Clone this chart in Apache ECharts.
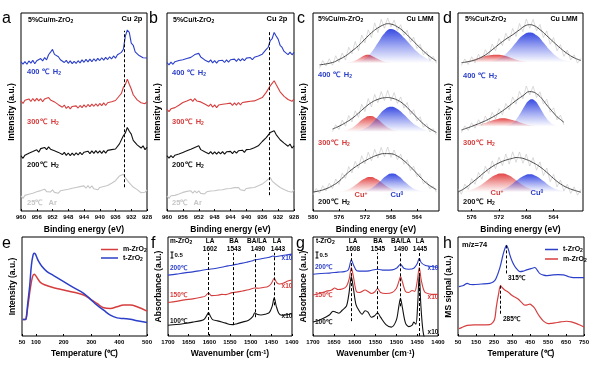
<!DOCTYPE html>
<html><head><meta charset="utf-8">
<script src="https://cdn.jsdelivr.net/npm/echarts@6/dist/echarts.min.js"></script>
<style>html,body{margin:0;padding:0;background:#fff}#c{width:597px;height:366px}</style>
</head><body><div id="c"></div>
<script>
// ---------------- DATA ----------------
// Panels a/b: Cu 2p XPS, binding energy grid (eV)
const XPS_X = [960,959.5,959,958.5,958,957.5,957,956.5,956,955.5,955,954.5,954,953.5,953,952.5,952,951.5,951,950.5,950,949.5,949,948.5,948,947.5,947,946.5,946,945.5,945,944.5,944,943.5,943,942.5,942,941.5,941,940.5,940,939.5,939,938.5,938,937.5,937,936.5,936,935.5,935,934.5,934,933.5,933,932.5,932,931.5,931,930.5,930,929.5,929,928.5,928];
const A_400 = [75.3,74.2,75.4,74.1,75.8,74.7,76.1,74.4,75.9,75.5,77.0,75.8,77.5,76.3,78.9,80.2,81.6,79.1,79.3,77.9,76.4,77.2,75.0,76.1,74.6,75.8,74.4,75.6,74.5,75.9,74.8,76.3,75.1,76.6,75.3,76.7,75.4,76.9,75.7,77.1,76.0,77.4,76.2,77.6,76.5,77.9,76.8,78.3,77.2,78.9,78.0,80.1,81.7,88.3,91.4,90.2,84.8,83.7,80.4,80.6,78.5,79.2,77.4,78.4,77.3];
const A_300 = [55.6,54.3,55.9,55.0,56.6,55.3,56.8,55.5,56.9,55.6,56.7,55.2,56.6,55.9,57.3,56.1,57.0,55.1,55.6,53.7,54.2,52.4,53.5,51.8,52.9,51.6,52.8,51.9,53.1,52.0,53.3,52.2,53.6,52.4,53.8,52.7,54.0,52.9,54.1,53.0,54.3,53.2,54.6,53.3,54.7,53.8,55.2,54.3,55.8,55.9,58.2,59.4,62.5,63.9,66.6,64.0,61.6,58.7,58.2,56.1,56.6,54.7,55.6,54.2,55.2];
const A_200 = [27.9,26.6,28.2,27.5,29.2,28.3,30.0,29.1,30.9,29.7,31.5,30.6,32.1,31.0,32.4,31.2,31.8,30.4,31.2,29.6,30.3,28.5,29.6,28.1,29.3,28.0,29.2,28.1,29.4,28.3,29.6,28.4,29.7,28.8,30.2,29.0,30.4,29.1,30.5,29.2,30.4,29.1,30.5,29.2,30.6,29.6,31.0,30.0,31.3,31.4,33.9,34.9,38.0,39.4,42.2,40.3,38.8,35.7,35.4,33.4,33.8,31.8,32.9,31.0,32.1];
const A_25 = [7.6,6.4,7.9,7.1,8.5,7.6,9.0,8.3,9.7,8.8,10.3,9.5,11.0,9.8,10.8,9.6,10.7,9.4,10.3,9.0,10.2,9.3,10.6,9.8,11.0,10.1,11.5,10.6,11.9,11.0,12.3,11.4,12.7,11.5,12.8,11.6,12.7,11.2,12.1,10.7,11.9,11.0,12.4,11.6,12.9,12.5,14.0,13.8,15.3,15.6,17.7,17.4,18.6,16.7,16.1,14.2,13.7,12.1,12.8,10.8,11.0,9.2,10.2,9.5,10.7];
const B_400 = [75.0,73.8,75.2,74.1,75.4,74.6,76.0,75.0,76.4,75.5,77.0,76.0,77.6,77.3,79.0,79.4,79.6,77.8,78.0,76.3,76.8,75.2,76.3,74.8,75.9,74.7,75.9,74.9,76.1,75.0,76.3,75.2,76.4,75.4,76.7,75.6,76.9,75.8,77.0,75.9,77.2,76.2,77.5,76.4,77.6,76.9,78.3,77.8,79.2,79.4,81.6,82.7,86.0,87.1,90.2,88.4,86.8,83.7,82.6,80.6,80.9,79.0,80.2,78.9,80.1];
const B_300 = [51.4,50.2,51.6,50.6,52.2,51.5,53.4,52.6,54.8,53.9,55.6,54.7,56.5,55.4,56.8,55.6,56.6,55.1,55.6,54.0,54.8,52.9,54.0,52.4,53.6,52.2,53.5,52.6,53.9,52.9,54.2,53.2,54.5,53.3,54.6,53.5,54.8,53.6,54.8,53.8,55.1,54.1,55.4,54.4,55.6,55.0,56.4,55.8,57.3,57.4,59.9,60.5,63.2,63.6,65.8,63.9,62.9,60.2,59.9,57.9,58.2,56.3,57.3,55.4,56.5];
const B_200 = [27.9,26.7,28.0,26.9,28.2,27.3,28.8,27.8,29.6,28.6,30.4,29.5,31.2,30.3,32.1,31.2,32.9,31.0,31.8,29.9,30.9,28.9,30.0,28.7,29.9,28.7,29.9,28.8,30.0,28.7,29.9,28.9,30.1,29.0,30.3,29.2,30.4,29.4,30.7,29.6,31.0,30.0,31.2,30.6,32.0,31.6,32.9,33.0,35.1,35.3,37.1,37.2,39.6,39.1,40.5,38.6,38.0,36.0,36.3,34.3,34.6,32.7,33.8,31.8,32.9];
const B_25 = [7.6,6.4,7.7,6.7,7.9,7.1,8.6,7.8,9.4,8.4,9.9,8.9,10.2,9.0,10.2,9.1,10.2,8.9,9.9,8.6,9.7,8.8,10.1,9.1,10.2,9.3,10.6,9.6,10.7,9.9,11.2,10.2,11.4,10.6,11.8,10.8,11.9,10.7,11.5,10.3,11.4,10.4,11.7,10.8,11.9,11.3,12.8,12.3,13.6,13.4,15.2,15.0,16.9,15.1,15.2,13.4,13.6,11.9,12.7,10.9,11.9,10.0,11.0,9.5,10.7];
const CU2P_LINE_A = [933.8, 12, 91];
const CU2P_LINE_B = [934.2, 8, 90.4];

// Panel c: Cu LMM, 5%Cu/m-ZrO2
const C_X = [580,579.5,579,578.5,578,577.5,577,576.5,576,575.5,575,574.5,574,573.5,573,572.5,572,571.5,571,570.5,570,569.5,569,568.5,568,567.5,567,566.5,566,565.5,565,564.5,564,563.5,563,562.5,562,561.5,561];
const C_400 = [null,null,72.1,76.0,73.2,76.9,73.6,78.4,75.1,79.8,76.2,82.7,79.4,85.6,81.0,88.9,84.9,91.5,87.6,95.0,90.1,96.8,92.3,97.5,93.0,96.4,91.2,94.1,88.7,91.3,85.2,87.8,82.1,84.2,78.9,80.6,76.0,78.1,74.6];
const C_300 = [null,null,null,null,null,null,40.1,43.6,41.2,45.9,42.8,48.2,45.0,50.6,47.3,53.9,50.2,56.8,52.6,58.9,54.7,60.3,55.8,60.9,55.6,59.8,54.3,57.6,51.9,54.8,48.7,51.2,45.4,47.6,42.3,44.1,39.9,41.6,38.4];
const C_200 = [8.1,11.4,9.0,12.8,10.1,14.0,11.3,16.2,13.4,19.1,16.5,22.4,19.2,25.1,21.6,27.9,23.8,29.7,25.4,31.2,26.7,32.1,27.4,32.3,27.1,30.8,25.9,28.7,23.6,25.9,20.4,22.6,17.3,18.9,13.8,15.0,11.3,12.6,9.5];
const C_FIT_400 = [[579,73.8],[577,75],[576,76.5],[575,78.3],[574,80.8],[573,83.5],[572,86.8],[571,90],[570,92.5],[569,94.2],[568.5,94.6],[568,94.4],[567,93],[566,90.5],[565,87.3],[564,84],[563,80.8],[562,78],[561,75.8]];
const C_FIT_300 = [[577,41.4],[576,42.8],[575,44.6],[574,46.7],[573,49.4],[572,52.3],[571,54.8],[570,56.4],[569,57.2],[568.5,57.3],[568,57.1],[567,56],[566,53.8],[565,50.6],[564,47.2],[563,44],[562,41.5],[561,39.7]];
const C_FIT_200 = [[580,9.6],[579,10.2],[578,11.2],[577,12.8],[576,15],[575,18.2],[574,21],[573,23.3],[572,25.3],[571,27],[570,28.3],[569,29],[568,28.9],[567,27.7],[566,25.4],[565,22.3],[564,18.9],[563,15.5],[562,12.8],[561,10.8]];
const C_CUP_400 = [[575,74.8],[574,75.4],[573,76.8],[572,78.6],[571.5,78.9],[571,78.4],[570,76.8],[569,75.4],[568,74.8]];
const C_CU0_400 = [[574,74.9],[573,75.4],[572,77],[571,80.2],[570,85],[569,89.7],[568,91.9],[567,90.5],[566,87.5],[565,84],[564,80.5],[563,78],[562,76.3],[561,75.3]];
const C_CUP_300 = [[576.2,40.1],[575.2,40.5],[574.2,41.7],[573.2,44],[572.2,46.7],[571.2,48],[570.2,46.7],[569.2,44],[568.2,41.7],[567.2,40.5],[566.2,40.1]];
const C_CU0_300 = [[574,40.1],[573,40.6],[572,41.7],[571,44.1],[570,47.7],[569,51.2],[568,52.7],[567,51.5],[566,48.7],[565,45.5],[564,43],[563,41.3],[562,40.4],[561,40.1]];
const C_CUP_200 = [[576.2,9.8],[575.2,10.2],[574.2,11.5],[573.2,13.7],[572.2,16.1],[571.2,17.2],[570.2,16.1],[569.2,13.7],[568.2,11.5],[567.2,10.2],[566.2,9.8]];
const C_CU0_200 = [[572.8,9.8],[571.8,10.4],[570.8,11.9],[569.8,14.6],[568.8,17.6],[567.8,18.9],[566.8,17.6],[565.8,14.6],[564.8,11.9],[563.8,10.4],[562.8,9.8],[561.8,9.6]];
const C_BASE = [74.7, 40, 9.6];

// Panel d: Cu LMM, 5%Cu/t-ZrO2
const D_X = [578,577.5,577,576.5,576,575.5,575,574.5,574,573.5,573,572.5,572,571.5,571,570.5,570,569.5,569,568.5,568,567.5,567,566.5,566,565.5,565,564.5,564,563.5,563,562.5,562,561.5,561,560.5,560];
const D_400 = [null,73.5,76.8,74.0,77.9,74.8,79.2,76.3,81.5,78.4,84.3,80.9,87.1,83.6,89.8,85.9,92.2,88.1,94.7,90.6,97.0,92.3,96.8,91.0,94.2,87.6,90.9,84.2,87.6,80.9,84.0,78.1,81.2,76.3,78.9,74.7,77.1];
const D_300 = [null,39.6,43.0,40.7,44.6,41.8,46.1,43.2,47.9,44.6,49.8,46.5,51.7,48.6,54.3,51.2,57.6,53.9,60.4,56.6,63.1,58.7,63.0,57.3,60.2,54.0,56.4,49.9,52.1,46.0,48.4,43.5,null,null,null,null,null];
const D_200 = [11.2,8.5,13.6,10.9,16.4,13.5,19.5,16.1,22.6,18.9,25.3,21.3,27.2,22.9,28.8,23.7,29.9,24.6,29.8,24.1,28.7,22.7,27.0,20.6,24.8,17.9,21.7,14.8,18.5,12.2,15.6,10.1,13.5,8.9,12.2,8.0,10.9];
const D_FIT_400 = [[577.5,74.9],[576,75.8],[575,77],[574,78.8],[573,81.4],[572,84.2],[571,86.8],[570,89],[569,91.5],[568,93.8],[567.5,94.1],[567,93.8],[566,91.6],[565,88.5],[564,85.3],[563,82.2],[562,79.5],[561,77.4],[560,76]];
const D_FIT_300 = [[577.5,40.9],[576.5,42.1],[575.5,43.4],[574.5,44.8],[573.5,46.4],[572.5,48.3],[571.5,50.5],[570.5,53.1],[569.5,55.8],[568.5,58.2],[567.5,60.3],[567,60.1],[566.5,59.2],[566,57.8],[565.5,55.8],[565,53.5],[564.5,51.5],[564,49.5],[563.5,47.6],[563,46.2],[562.5,44.8]];
const D_FIT_200 = [[578,9.6],[577,11.5],[576,14.2],[575,17],[574,19.9],[573,22.4],[572,24.3],[571,25.7],[570,26.6],[569.5,27],[569,26.9],[568,26],[567,24.4],[566,22.3],[565,19.5],[564,16.4],[563,13.7],[562,11.8],[561,10.5],[560,9.5]];
const D_CUP_400 = [[577,75.4],[576,76.2],[575,77.3],[574,78.3],[573,78.8],[572.4,78.9],[571.5,78.6],[570.5,77.6],[569.5,76.4],[568.5,75.6],[567.5,75.2],[566,75]];
const D_CU0_400 = [[574.5,75.1],[573.5,75.4],[572.5,76.2],[571.5,77.9],[570.5,81],[569.5,85.1],[568.5,88.7],[567.5,90.2],[566.5,88.7],[565.5,85.1],[564.5,81],[563.5,77.9],[562.5,76.2],[561.5,75.4],[560.5,75.1],[559.7,75]];
const D_CUP_300 = [[576.5,42.8],[575.5,43.2],[574.5,44],[573.5,45.1],[572.5,46.2],[571.4,46.8],[570.5,46.4],[569.5,45.4],[568.5,44.2],[567.5,43.3],[566.5,42.8],[565.5,42.6]];
const D_CU0_300 = [[571.2,42.8],[570.2,44],[569.7,45.4],[569.2,47.6],[568.7,50.4],[568.2,53.3],[567.7,55.5],[567.2,56.4],[566.7,55.5],[566.2,53.3],[565.7,50.4],[565.2,47.6],[564.7,45.4],[564.2,44],[563.2,42.8],[562.6,42.6]];
const D_CUP_200 = [[577.6,9.8],[576.6,10.3],[575.6,11.4],[574.6,13.3],[573.6,15.8],[572.6,18],[571.6,18.9],[570.6,18],[569.6,15.8],[568.6,13.3],[567.6,11.4],[566.6,10.3],[565.6,9.8]];
const D_CU0_200 = [[573.5,9.7],[572.5,10],[571.5,10.8],[570.5,12.5],[569.5,15.1],[568.5,17.5],[567.5,18.6],[566.5,17.5],[565.5,15.1],[564.5,12.5],[563.5,10.8],[562.5,10],[561.5,9.7],[560,9.6]];
const D_BASE = [75, 42.6, 9.6];

// Panel e: intensity vs temperature
const E_M = [[52,16.6],[62,16.6],[66,19],[70,27.8],[75,38],[80,48.1],[88,60],[94,62.4],[98,61.5],[104,59],[116,54.2],[134,51.5],[164,48.8],[200,46.4],[236,44.1],[272,41.4],[296,37.3],[320,32.9],[344,28.5],[368,27.8],[392,29.5],[416,31.2],[440,31.2],[464,29.5],[500,25.1]];
const E_T = [[52,16.6],[62,16.6],[66,20],[70,31],[74,41],[78,51.5],[84,71.9],[90,82],[94,83.7],[98,82.8],[102,80.3],[110,75.3],[122,70.2],[140,65.1],[164,61],[200,54.9],[236,48.8],[272,43.1],[296,37.3],[320,31.2],[344,26.1],[368,21],[392,18.3],[416,17.6],[440,17],[464,15.3],[500,13.6]];

// Panel f: IR, m-ZrO2
const F_200 = [[1700,61.5],[1680,62.5],[1660,63.8],[1640,64.8],[1620,66.2],[1602,67.5],[1590,68],[1570,69.5],[1555,70.8],[1545,71.5],[1530,72.8],[1510,74.5],[1495,76],[1490,77],[1480,77.5],[1465,78.8],[1455,79.5],[1446,80.8],[1440,80],[1430,80.8],[1415,81.8],[1400,82.7]];
const F_150 = [[1700,33.9],[1680,35],[1660,36.5],[1640,37.5],[1620,39.2],[1610,40.3],[1602,43.5],[1595,40.8],[1580,41.2],[1570,42],[1560,41.8],[1545,43.8],[1535,44.3],[1520,45.5],[1505,46.7],[1490,48.5],[1480,48.3],[1470,49],[1458,50],[1450,53],[1443,58.3],[1437,54],[1430,52.5],[1420,53.5],[1410,55.5],[1400,56.6]];
const F_100 = [[1700,10.8],[1680,11.6],[1660,12.7],[1640,14],[1620,15.5],[1612,17],[1606,21],[1602,23.7],[1598,20.5],[1592,16.5],[1580,15.3],[1570,14.2],[1560,13],[1550,11.6],[1543,11.5],[1535,12.2],[1520,14],[1505,16],[1495,19.5],[1490,23.5],[1485,22],[1475,21.2],[1465,22],[1455,23.5],[1448,30],[1443,38.6],[1438,30],[1432,23],[1425,21],[1415,21.3],[1400,22.7]];
const F_BANDS = [1602, 1543, 1490, 1443];
const F_BAND_LOW = [1, 11, 19, 31];

// Panel g: IR, t-ZrO2
const G_200 = [[1700,62.4],[1680,63.2],[1660,63.5],[1640,64.5],[1625,65],[1615,67],[1608,77],[1603,72],[1595,66],[1580,65.5],[1565,65.8],[1545,67.5],[1530,66.5],[1510,66.8],[1498,69],[1490,72.5],[1482,68.5],[1470,67.5],[1458,68.5],[1450,73],[1445,78.6],[1440,74],[1430,71.2],[1420,70.5],[1410,70],[1400,69.2]];
const G_150 = [[1700,41.4],[1685,43],[1670,45],[1655,46.5],[1648,48.5],[1640,47],[1630,47.5],[1620,50],[1613,58],[1608,69.2],[1603,60],[1596,45],[1588,44],[1575,46.5],[1568,45],[1560,43],[1552,44.5],[1545,48],[1538,44],[1525,43],[1510,44],[1500,48],[1494,55],[1490,60],[1485,54],[1478,45],[1470,44],[1462,46],[1456,45],[1450,55],[1445,69.2],[1440,56],[1432,44.5],[1420,42.5],[1410,42],[1400,42]];
const G_100 = [[1700,14.2],[1685,16],[1670,19],[1660,21.5],[1652,25],[1645,24],[1638,23],[1630,26],[1620,30],[1614,42],[1608,60],[1603,48],[1597,32],[1590,26],[1582,22],[1575,25.5],[1568,24],[1560,19],[1552,20.5],[1545,23.5],[1538,19],[1525,11.5],[1512,9],[1500,16],[1494,30],[1490,38],[1486,30],[1478,13],[1470,9.5],[1462,11],[1458,14],[1453,12],[1449,30],[1445,62.4],[1441,30],[1436,5],[1430,-5],[1420,-10]];
const G_BANDS = [1608, 1545, 1490, 1445];
const G_BAND_LOW = [15, 17, 30, 0];

// Panel h: MS signal m/z=74
const H_T = [[55,49.8],[80,51],[101,53.2],[120,52],[134,51.9],[180,52.5],[226,53.2],[245,54.5],[260,57.5],[282,68.5],[300,82],[310,88],[319,91.5],[328,88.5],[338,82],[352,75],[366,70.2],[380,67],[394,65],[412,65.5],[431,66.8],[455,68],[477,69.2],[492,66],[505,63],[525,61.5],[542,61],[560,61.3],[579,61.7],[605,62],[635,61.8],[650,61],[663,60],[690,59],[720,59],[750,59]];
const H_M = [[55,7.5],[70,8.5],[101,10.8],[150,11.2],[226,11.5],[245,14],[255,18],[263,29.5],[275,42],[286,50.8],[295,49],[310,46.4],[328,44.5],[347,41.4],[365,39.3],[384,37.3],[403,34],[421,31.2],[435,31.5],[449,32.2],[463,30.5],[477,27.8],[490,23.5],[505,19.3],[525,15],[551,12.5],[570,12.8],[588,13.2],[620,14.2],[653,14.9],[680,14.2],[709,12.5],[730,10.8],[750,9.2]];
const H_PEAK_T = [319, 91.5, 61.5];
const H_PEAK_M = [286, 50.8, 21];

// tick labels
const TICKS_C = [564,568,572,576,580];
const TICKS_D = [564,568,572,576];
const TICKS_E = [50,100,200,300,400,500];
const TICKS_H = [50,150,250,350,450,550,650,750];

// ---------------- CHART ----------------
const FF = '"Liberation Sans", Arial, Helvetica, sans-serif';
const BLUE = '#2b3fc9', RED = '#d63e3e', BLACK = '#111111', LGRAY = '#c6c6c6', NOISE = '#c2c2c2';
const zip = (xs, ys) => xs.map((x, i) => [x, ys[i]]).filter(p => p[1] != null);
const RICH = {
  s: {fontSize: 5, fontWeight: 'bold', fontFamily: FF, verticalAlign: 'bottom', padding: [3, 0, 0, 0]},
  p: {fontSize: 5, fontWeight: 'bold', fontFamily: FF, verticalAlign: 'top'}
};
const GRIDS = [
  {left: 21, top: 13, width: 126, height: 198},
  {left: 167, top: 13, width: 127, height: 198},
  {left: 313, top: 13, width: 126, height: 198},
  {left: 458, top: 13, width: 125, height: 198},
  {left: 22, top: 237, width: 125, height: 99},
  {left: 168, top: 237, width: 124, height: 99},
  {left: 313, top: 237, width: 125, height: 99},
  {left: 458, top: 237, width: 126, height: 99}
];
function xAx(i, o, custom) {
  const ax = {
    gridIndex: i, type: 'value', nameLocation: 'middle', nameGap: 13,
    nameTextStyle: {fontFamily: FF, fontWeight: 'bold', fontSize: 8.5, color: '#000', rich: {p: {fontSize: 5.5, fontWeight: 'bold', fontFamily: FF, verticalAlign: 'top', color: '#000'}}},
    axisLine: {show: false}, splitLine: {show: false},
    axisTick: {show: true, inside: true, length: 2, lineStyle: {color: '#000', width: 1}},
    axisLabel: {fontFamily: FF, fontWeight: 'bold', fontSize: 6, color: '#000', margin: 3, formatter: v => String(v)}
  };
  if (custom) { ax.axisTick.customValues = custom; ax.axisLabel.customValues = custom; }
  return Object.assign(ax, o);
}
function yAx(i, name) {
  return {gridIndex: i, type: 'value', min: 0, max: 100, name, nameLocation: 'middle', nameGap: 5,
    nameTextStyle: {fontFamily: FF, fontWeight: 'bold', fontSize: 8.5, color: '#000'},
    axisLine: {show: false}, axisTick: {show: false}, axisLabel: {show: false}, splitLine: {show: false}};
}
function line(xi, data, color, w, extra) {
  return Object.assign({type: 'line', xAxisIndex: xi, yAxisIndex: xi, data, showSymbol: false, symbol: 'none',
    lineStyle: {color, width: w}, itemStyle: {color}, silent: true, z: 3}, extra || {});
}
function area(xi, data, base, rgb) {
  return {type: 'line', xAxisIndex: xi, yAxisIndex: xi, data, smooth: 0.5, showSymbol: false, symbol: 'none', silent: true, z: 1,
    lineStyle: {width: 0, opacity: 0},
    areaStyle: {origin: base, opacity: 1, color: {type: 'linear', x: 0, y: 0, x2: 0, y2: 1, colorStops: [
      {offset: 0, color: 'rgba(' + rgb + ',0.95)'}, {offset: 0.5, color: 'rgba(' + rgb + ',0.45)'}, {offset: 1, color: 'rgba(' + rgb + ',0)'}]}}};
}
function dashes(segs) {
  return {symbol: ['none', 'none'], silent: true, animation: false, label: {show: false},
    lineStyle: {type: [3, 2], color: '#000', width: 1}, emphasis: {disabled: true},
    data: segs.map(s => [{coord: [s[0], s[1]]}, {coord: [s[0], s[2]]}])};
}
function T(x, y, text, color, size, align, weight) {
  return {type: 'text', x, y, silent: true, z: 50, style: {text, fill: color || '#000', fontSize: size || 7.5,
    fontWeight: weight || 'bold', fontFamily: FF, align: align || 'left', verticalAlign: 'middle', rich: RICH}};
}
function ibar(x, y1, y2) {
  return {type: 'group', silent: true, z: 50, children: [
    {type: 'line', shape: {x1: x, y1, x2: x, y2}, style: {stroke: '#000', lineWidth: 1}},
    {type: 'line', shape: {x1: x - 1.5, y1, x2: x + 1.5, y2: y1}, style: {stroke: '#000', lineWidth: 1}},
    {type: 'line', shape: {x1: x - 1.5, y1: y2, x2: x + 1.5, y2}, style: {stroke: '#000', lineWidth: 1}}]};
}

const series = [
  // a
  line(0, zip(XPS_X, A_25), LGRAY, 1.1),
  line(0, zip(XPS_X, A_200), BLACK, 1.1),
  line(0, zip(XPS_X, A_300), RED, 1.1),
  line(0, zip(XPS_X, A_400), BLUE, 1.1, {markLine: dashes([CU2P_LINE_A])}),
  // b
  line(1, zip(XPS_X, B_25), LGRAY, 1.1),
  line(1, zip(XPS_X, B_200), BLACK, 1.1),
  line(1, zip(XPS_X, B_300), RED, 1.1),
  line(1, zip(XPS_X, B_400), BLUE, 1.1, {markLine: dashes([CU2P_LINE_B])}),
  // c
  area(2, C_CUP_400, C_BASE[0], '225,60,60'), area(2, C_CU0_400, C_BASE[0], '45,65,225'),
  area(2, C_CUP_300, C_BASE[1], '225,60,60'), area(2, C_CU0_300, C_BASE[1], '45,65,225'),
  area(2, C_CUP_200, C_BASE[2], '225,60,60'), area(2, C_CU0_200, C_BASE[2], '45,65,225'),
  line(2, zip(C_X, C_400), NOISE, 0.6), line(2, zip(C_X, C_300), NOISE, 0.6), line(2, zip(C_X, C_200), NOISE, 0.6),
  line(2, C_FIT_400, '#4a4a4a', 1, {smooth: 0.5}), line(2, C_FIT_300, '#4a4a4a', 1, {smooth: 0.5}), line(2, C_FIT_200, '#4a4a4a', 1, {smooth: 0.5}),
  // d
  area(3, D_CUP_400, D_BASE[0], '225,60,60'), area(3, D_CU0_400, D_BASE[0], '45,65,225'),
  area(3, D_CUP_300, D_BASE[1], '225,60,60'), area(3, D_CU0_300, D_BASE[1], '45,65,225'),
  area(3, D_CUP_200, D_BASE[2], '225,60,60'), area(3, D_CU0_200, D_BASE[2], '45,65,225'),
  line(3, zip(D_X, D_400), NOISE, 0.6), line(3, zip(D_X, D_300), NOISE, 0.6), line(3, zip(D_X, D_200), NOISE, 0.6),
  line(3, D_FIT_400, '#4a4a4a', 1, {smooth: 0.5}), line(3, D_FIT_300, '#4a4a4a', 1, {smooth: 0.5}), line(3, D_FIT_200, '#4a4a4a', 1, {smooth: 0.5}),
  // e
  Object.assign(line(4, E_M, RED, 1.5, {smooth: 0.4}), {name: 'e_m'}),
  Object.assign(line(4, E_T, BLUE, 1.5, {smooth: 0.4}), {name: 'e_t'}),
  // f
  line(5, F_100, BLACK, 1.1, {smooth: 0.3, markLine: dashes(F_BANDS.map((b, i) => [b, F_BAND_LOW[i], 84]))}),
  line(5, F_150, RED, 1.1, {smooth: 0.3}),
  line(5, F_200, BLUE, 1.1, {smooth: 0.3}),
  // g
  line(6, G_100, BLACK, 1.1, {smooth: 0.3, markLine: dashes(G_BANDS.map((b, i) => [b, G_BAND_LOW[i], 84]))}),
  line(6, G_150, RED, 1.1, {smooth: 0.3}),
  line(6, G_200, BLUE, 1.1, {smooth: 0.3}),
  // h
  Object.assign(line(7, H_T, BLUE, 1.2, {smooth: 0.3, markLine: dashes([H_PEAK_T, H_PEAK_M])}), {name: 'h_t'}),
  Object.assign(line(7, H_M, RED, 1.2, {smooth: 0.3}), {name: 'h_m'})
];

const LEG_NAMES = {e_m: 'm-ZrO{s|2}', e_t: 't-ZrO{s|2}', h_t: 't-ZrO{s|2}', h_m: 'm-ZrO{s|2}'};
const legStyle = {fontFamily: FF, fontWeight: 'bold', fontSize: 7, color: '#000', rich: RICH};

const graphic = [
  // panel letters
  T(2, 19, 'a', '#000', 16, 'left', 'normal'), T(149, 19, 'b', '#000', 16, 'left', 'normal'),
  T(297, 19, 'c', '#000', 16, 'left', 'normal'), T(443, 19, 'd', '#000', 16, 'left', 'normal'),
  T(2, 244, 'e', '#000', 16, 'left', 'normal'), T(151, 244, 'f', '#000', 16, 'left', 'normal'),
  T(296, 244, 'g', '#000', 16, 'left', 'normal'), T(443, 244, 'h', '#000', 16, 'left', 'normal'),
  // a
  T(28, 20, '5%Cu/m-ZrO{s|2}', '#000', 7), T(132, 19, 'Cu 2p', '#000', 7.5, 'center'),
  T(27, 72, '400 ℃  H{s|2}', BLUE, 7.5), T(27, 122, '300℃  H{s|2}', RED, 7.5),
  T(27, 165, '200℃  H{s|2}', BLACK, 7.5), T(27, 203, '25℃   Ar', LGRAY, 7.5),
  // b
  T(173, 20, '5%Cu/t-ZrO{s|2}', '#000', 7), T(277, 19, 'Cu 2p', '#000', 7.5, 'center'),
  T(172, 73, '400 ℃  H{s|2}', BLUE, 7.5), T(172, 122, '300℃  H{s|2}', RED, 7.5),
  T(172, 165, '200℃  H{s|2}', BLACK, 7.5), T(172, 203, '25℃   Ar', LGRAY, 7.5),
  // c
  T(318, 19, '5%Cu/m-ZrO{s|2}', '#000', 7), T(420, 19, 'Cu LMM', '#000', 7, 'center'),
  T(318, 75, '400 ℃  H{s|2}', BLUE, 7.5), T(318, 143, '300℃  H{s|2}', RED, 7.5),
  T(318, 202, '200℃  H{s|2}', BLACK, 7.5),
  T(361, 195, 'Cu{p|+}', RED, 7.5, 'center'), T(397, 195, 'Cu{p|0}', BLUE, 7.5, 'center'),
  // d
  T(465, 19, '5%Cu/t-ZrO{s|2}', '#000', 7), T(564, 19, 'Cu LMM', '#000', 7, 'center'),
  T(463, 76, '400 ℃  H{s|2}', BLUE, 7.5), T(463, 143, '300℃  H{s|2}', RED, 7.5),
  T(463, 202, '200℃  H{s|2}', BLACK, 7.5),
  T(497, 193, 'Cu{p|+}', RED, 7.5, 'center'), T(537, 193, 'Cu{p|0}', BLUE, 7.5, 'center'),
  // f
  T(170, 241, 'm-ZrO{s|2}', '#000', 6.5),
  T(210, 241, 'LA', '#000', 6.5, 'center'), T(210, 249, '1602', '#000', 6.5, 'center'),
  T(234, 241, 'BA', '#000', 6.5, 'center'), T(234, 249, '1543', '#000', 6.5, 'center'),
  T(257, 241, 'BA/LA', '#000', 6.5, 'center'), T(258, 249, '1490', '#000', 6.5, 'center'),
  T(277, 241, 'LA', '#000', 6.5, 'center'), T(278, 249, '1443', '#000', 6.5, 'center'),
  ibar(172, 252, 258), T(174.5, 255, '0.5', '#000', 6),
  T(170, 268, '200℃', BLUE, 6.5), T(170, 295, '150℃', RED, 6.5), T(170, 321, '100℃', BLACK, 6.5),
  T(287, 258, 'x10', BLUE, 6.5, 'center'), T(287, 286, 'x10', RED, 6.5, 'center'), T(287, 316, 'x10', BLACK, 6.5, 'center'),
  // g
  T(316, 241, 't-ZrO{s|2}', '#000', 6.5),
  T(353, 241, 'LA', '#000', 6.5, 'center'), T(353, 249, '1608', '#000', 6.5, 'center'),
  T(378, 241, 'BA', '#000', 6.5, 'center'), T(378, 249, '1545', '#000', 6.5, 'center'),
  T(401, 241, 'BA/LA', '#000', 6.5, 'center'), T(401, 249, '1490', '#000', 6.5, 'center'),
  T(420, 241, 'LA', '#000', 6.5, 'center'), T(420, 249, '1445', '#000', 6.5, 'center'),
  ibar(317, 252, 258), T(319.5, 255, '0.5', '#000', 6),
  T(315, 267, '200℃', BLUE, 6.5), T(315, 295, '150℃', RED, 6.5), T(315, 322, '100℃', BLACK, 6.5),
  T(433, 268, 'x10', BLUE, 6.5, 'center'), T(433, 297, 'x10', RED, 6.5, 'center'), T(433, 332, 'x10', BLACK, 6.5, 'center'),
  // h
  T(462, 245, 'm/z=74', '#000', 7.5), T(508, 278, '315℃', '#000', 6.5), T(503, 319, '285℃', '#000', 6.5)
];

const option = {
  animation: false, backgroundColor: '#fff',
  grid: GRIDS.map(g => Object.assign({show: true, borderColor: '#000', borderWidth: 1, backgroundColor: 'transparent'}, g)),
  xAxis: [
    xAx(0, {min: 928, max: 960, interval: 4, inverse: true, name: 'Binding energy (eV)'}),
    xAx(1, {min: 928, max: 960, interval: 4, inverse: true, name: 'Binding energy (eV)'}),
    xAx(2, {min: 560.6, max: 580, inverse: true, name: 'Binding energy (eV)'}, TICKS_C),
    xAx(3, {min: 559.7, max: 578, inverse: true, name: 'Binding energy (eV)'}, TICKS_D),
    xAx(4, {min: 50, max: 500, name: 'Temperature (℃)'}, TICKS_E),
    xAx(5, {min: 1400, max: 1700, interval: 50, inverse: true, name: 'Wavenumber (cm{p|-1})'}),
    xAx(6, {min: 1400, max: 1700, interval: 50, inverse: true, name: 'Wavenumber (cm{p|-1})'}),
    xAx(7, {min: 50, max: 750, name: 'Temperature (℃)'}, TICKS_H)
  ],
  yAxis: [
    yAx(0, 'Intensity (a.u.)'), yAx(1, 'Intensity (a.u.)'), yAx(2, 'Intensity (a.u.)'), yAx(3, 'Intensity (a.u.)'),
    yAx(4, 'Intensity (a.u.)'), yAx(5, 'Absorbance (a.u.)'), yAx(6, 'Absorbance (a.u.)'), yAx(7, 'MS signal (a.u.)')
  ],
  legend: [
    {data: ['e_m', 'e_t'], left: 96, top: 241, orient: 'vertical', itemGap: 1, itemWidth: 17, itemHeight: 1.5, icon: 'rect', selectedMode: false, textStyle: legStyle, formatter: n => LEG_NAMES[n]},
    {data: ['h_t', 'h_m'], left: 540, top: 241, orient: 'vertical', itemGap: 2, itemWidth: 13, itemHeight: 1.5, icon: 'rect', selectedMode: false, textStyle: legStyle, formatter: n => LEG_NAMES[n]}
  ],
  series, graphic
};
const chart = echarts.init(document.getElementById('c'), null, {renderer: 'canvas'});
chart.setOption(option);
</script></body></html>
